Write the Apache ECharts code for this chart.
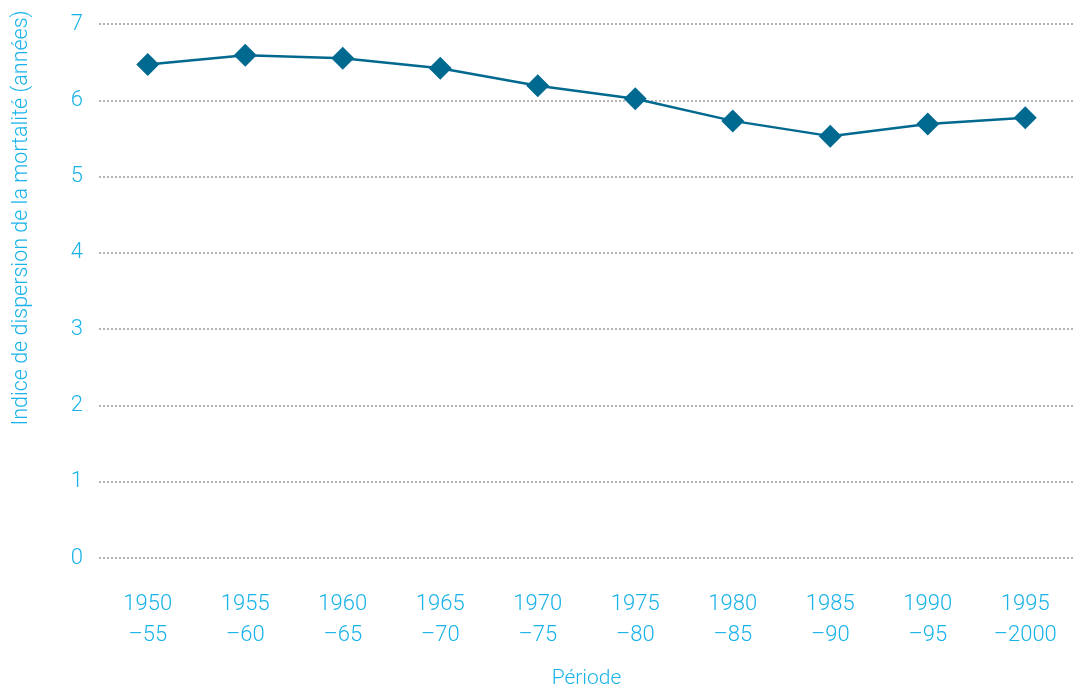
<!DOCTYPE html>
<html>
<head>
<meta charset="utf-8">
<script src="https://cdn.jsdelivr.net/npm/echarts@6/dist/echarts.min.js"></script>
<style>
  html, body { margin: 0; padding: 0; background: #fff; }
  #chart { width: 1080px; height: 689px; }
</style>
</head>
<body>
<div id="chart"></div>
<script>
const periods = ["1950\n–55", "1955\n–60", "1960\n–65", "1965\n–70", "1970\n–75",
  "1975\n–80", "1980\n–85", "1985\n–90", "1990\n–95", "1995\n–2000"];
const dispersion = [6.47, 6.59, 6.55, 6.42, 6.19, 6.02, 5.73, 5.53, 5.69, 5.77];
const yTicks = [0, 1, 2, 3, 4, 5, 6, 7];

const labelColor = "#1ab3e9";
const lineColor = "#006990";
const font = "Roboto";

const chart = echarts.init(document.getElementById("chart"));
chart.setOption({
  animation: false,
  grid: { left: 99, right: 6, top: 24, bottom: 131, outerBoundsMode: "none" },
  graphic: [
    {
      type: "text",
      rotation: Math.PI / 2,
      style: {
        text: "Indice de dispersion de la mortalité (années)",
        fill: labelColor,
        font: "300 21.5px Roboto",
        align: "center",
        verticalAlign: "middle"
      },
      x: 22,
      y: 218
    }
  ],
  xAxis: {
    type: "category",
    data: periods,
    boundaryGap: true,
    name: "Période",
    nameLocation: "middle",
    nameGap: 110,
    nameTextStyle: { color: labelColor, fontFamily: font, fontWeight: 300, fontSize: 21 },
    axisLine: { show: false },
    axisTick: { show: false },
    axisLabel: {
      color: labelColor,
      fontFamily: font,
      fontWeight: 300,
      fontSize: 22,
      lineHeight: 31,
      margin: 31
    }
  },
  yAxis: {
    type: "value",
    min: yTicks[0],
    max: yTicks[yTicks.length - 1],
    interval: 1,
    axisLine: { show: false },
    axisTick: { show: false },
    axisLabel: {
      color: labelColor,
      fontFamily: font,
      fontWeight: 300,
      fontSize: 22,
      margin: 16
    },
    splitLine: { lineStyle: { color: "#9a9a9a", type: [2, 2], width: 1.5 } }
  },
  series: [
    {
      type: "line",
      data: dispersion,
      symbol: "diamond",
      symbolSize: 23,
      lineStyle: { color: lineColor, width: 2.5 },
      itemStyle: { color: lineColor }
    }
  ]
});
</script>
</body>
</html>
